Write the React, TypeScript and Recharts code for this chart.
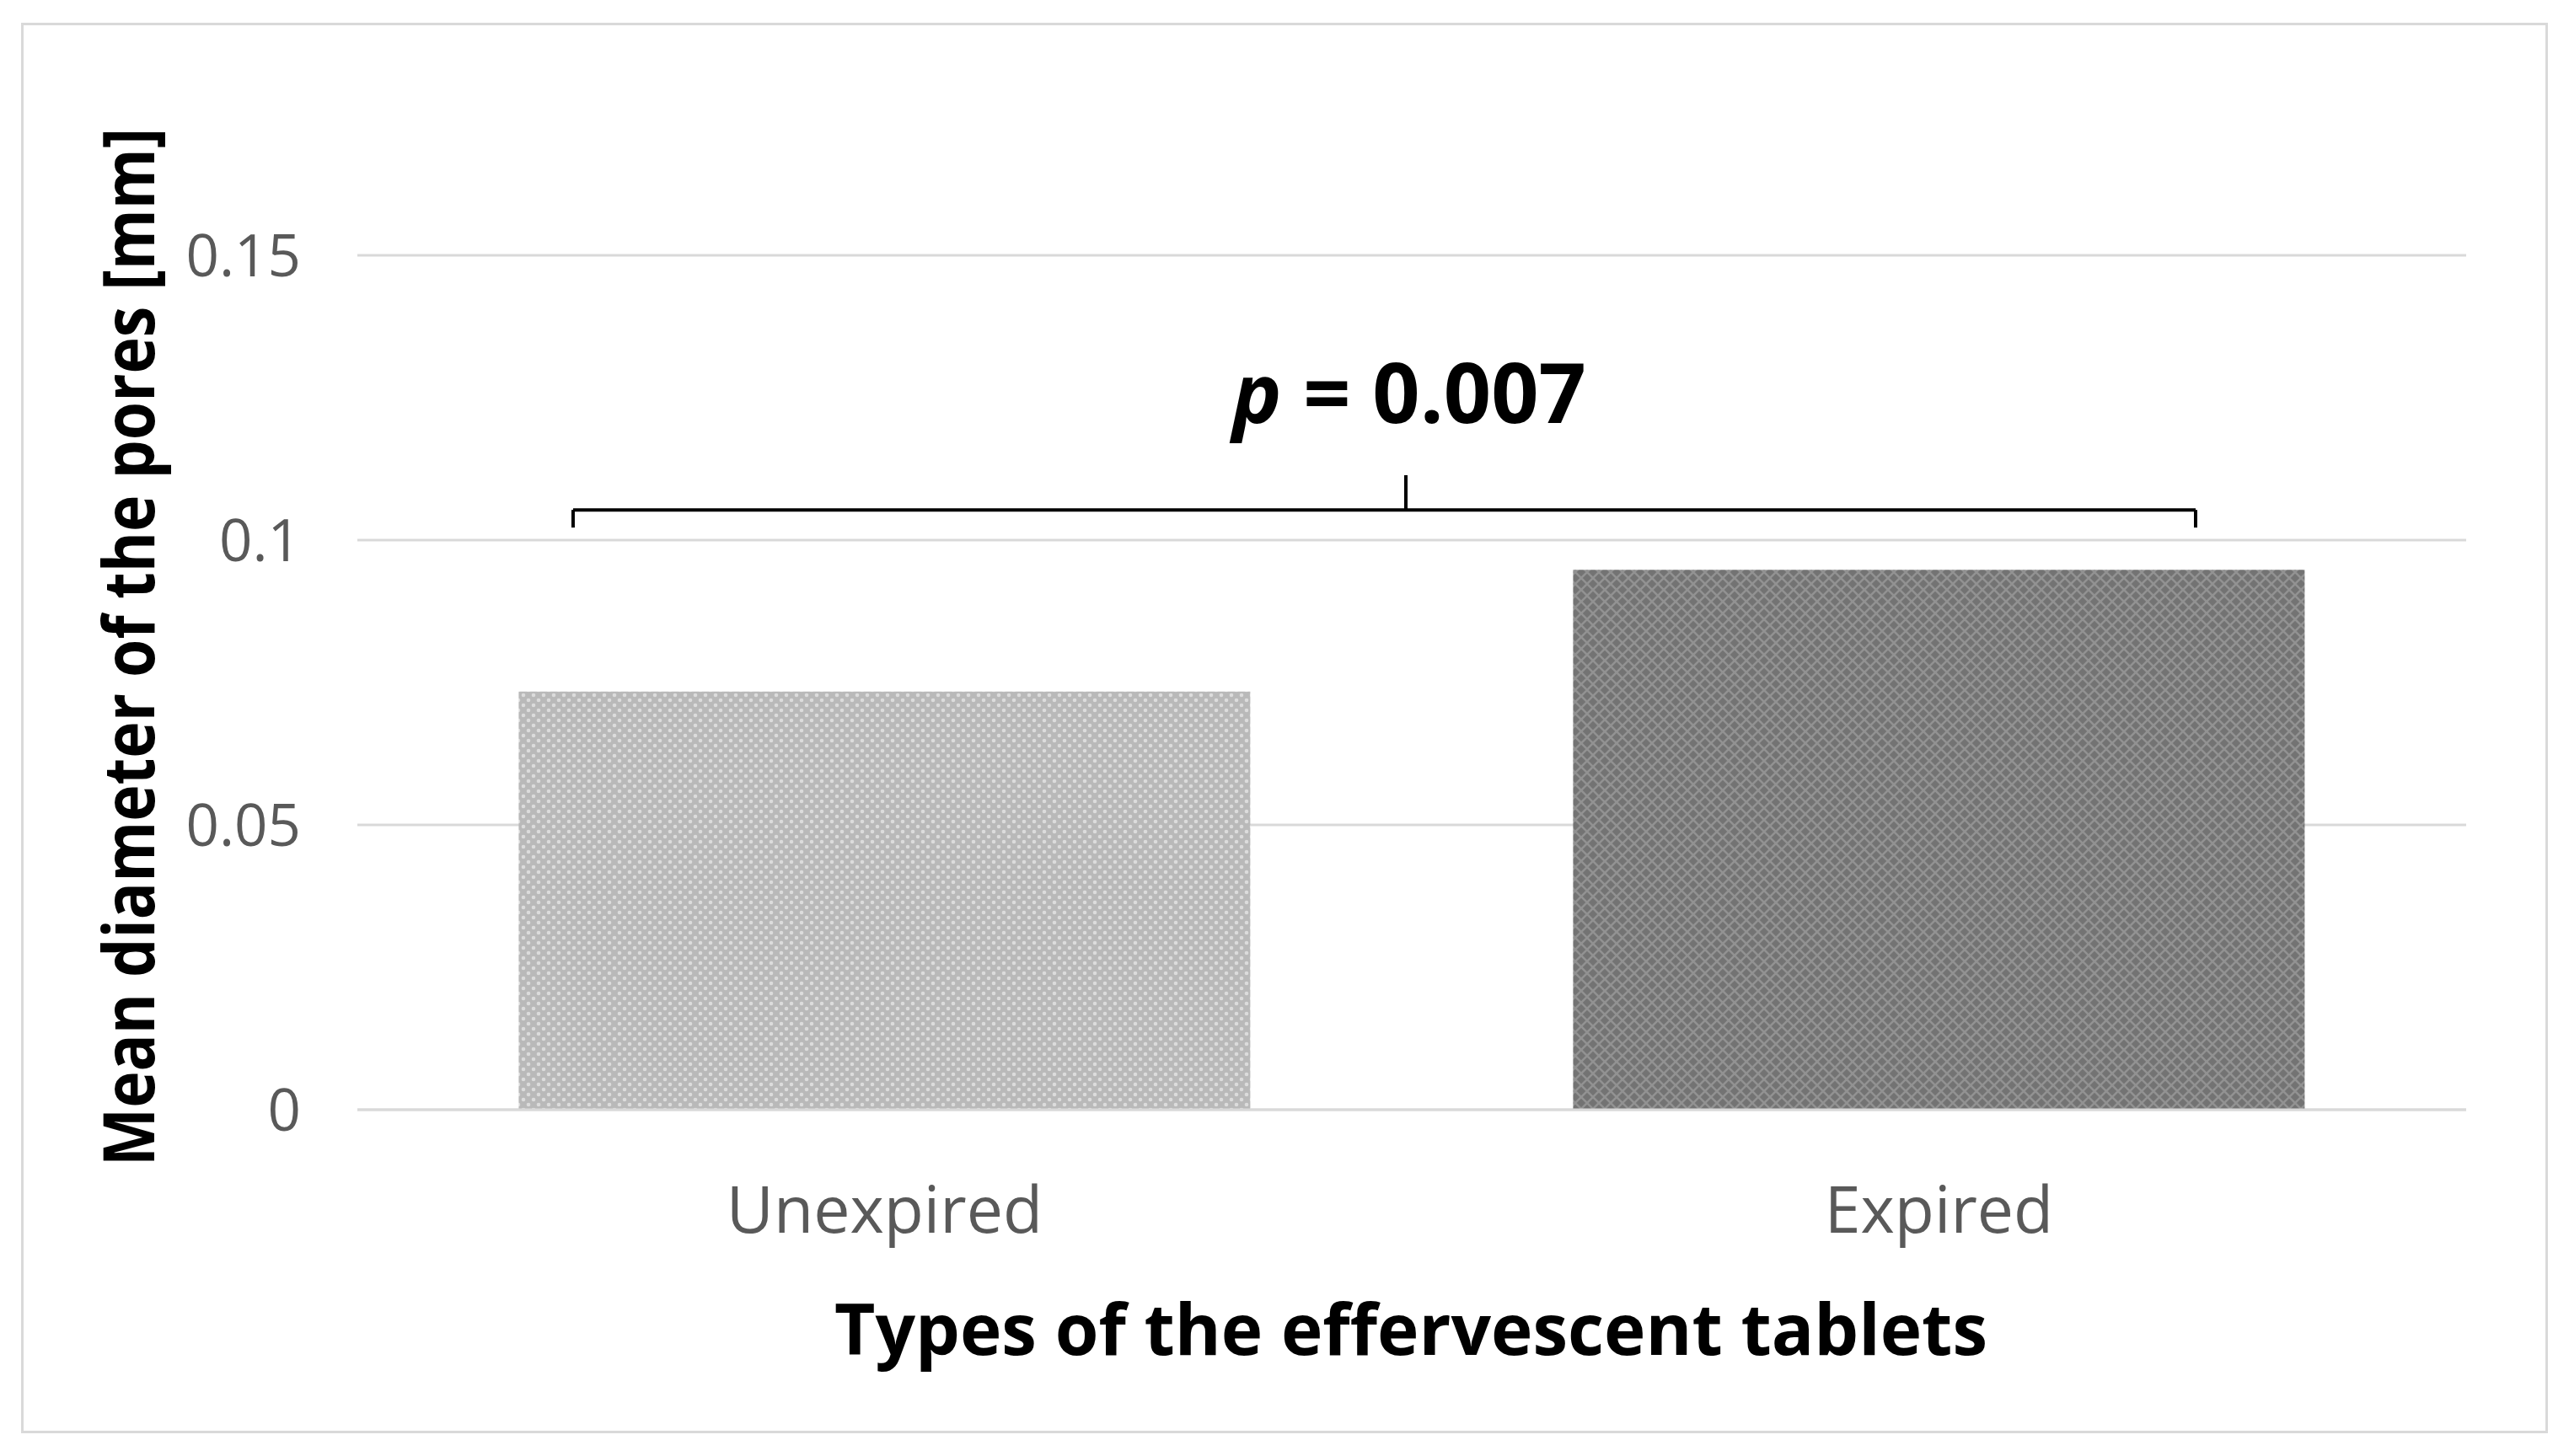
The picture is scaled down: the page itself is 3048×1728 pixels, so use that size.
import * as React from 'react';
import {
  BarChart,
  Bar,
  Cell,
  XAxis,
  YAxis,
  CartesianGrid,
  ReferenceLine,
  ReferenceDot,
} from 'recharts';

// chart values
const categories = ['Unexpired', 'Expired'];
const meanDiameter = [0.0734, 0.0948];
const yTicks = [0, 0.05, 0.1, 0.15];
const barFills = ['url(#dotsLight)', 'url(#latticeDark)'];

// significance bracket: x as a fraction of the plot width (hidden 0..1 axis), y in mm
const pValueLabel = { p: 'p', rest: ' = 0.007' };
const bracketEnds = [0.1023, 0.8717];
const bracketMid = 0.4972;
const bracketY = 0.1053;
const bracketFootY = 0.1022;
const bracketTipY = 0.1114;
const pLabelPos = { x: 0.4988, y: 0.1206 };

const data = categories.map((name, i) => ({ name, value: meanDiameter[i] }));

const FONT = '"Open Sans", "Noto Sans", sans-serif';
const TICK_GREY = '#595959';
const GRID_GREY = '#d9d9d9';

function YTick(props: any) {
  const { x, y, payload } = props;
  return (
    <text x={x} y={y} dy="0.36em" textAnchor="end" fontFamily={FONT} fontSize={69} fill={TICK_GREY}>
      {payload.value}
    </text>
  );
}

function XTick(props: any) {
  const { x, y, payload } = props;
  return (
    <text x={x} y={y + 146} textAnchor="middle" fontFamily={FONT} fontSize={77} fill={TICK_GREY}>
      {payload.value}
    </text>
  );
}

function YTitle() {
  const cx = 183;
  const cy = 768;
  return (
    <text
      x={cx}
      y={cy}
      transform={`rotate(-90, ${cx}, ${cy})`}
      textAnchor="middle"
      fontFamily={FONT}
      fontWeight={700}
      fontSize={84}
      fill="#000"
      textLength={1232}
      lengthAdjust="spacingAndGlyphs"
    >
      Mean diameter of the pores [mm]
    </text>
  );
}

function XTitle() {
  return (
    <text
      x={1674}
      y={1608}
      textAnchor="middle"
      fontFamily={FONT}
      fontWeight={700}
      fontSize={85}
      fill="#000"
      textLength={1368}
      lengthAdjust="spacingAndGlyphs"
    >
      Types of the effervescent tablets
    </text>
  );
}

function PLabel(props: any) {
  const { cx, cy } = props;
  return (
    <text
      x={cx}
      y={cy}
      textAnchor="middle"
      fontFamily={FONT}
      fontWeight={700}
      fontSize={98}
      fill="#000"
      textLength={420}
      lengthAdjust="spacingAndGlyphs"
    >
      <tspan fontStyle="italic">{pValueLabel.p}</tspan>
      <tspan>{pValueLabel.rest}</tspan>
    </text>
  );
}

function Patterns() {
  return (
    <svg width={0} height={0} style={{ position: 'absolute' }}>
      <defs>
        <pattern id="dotsLight" patternUnits="userSpaceOnUse" width={12} height={12}>
          <rect width={12} height={12} fill="#b9b9b9" />
          <circle cx={3} cy={3} r={2.3} fill="#dcdcdc" />
          <circle cx={9} cy={9} r={2.3} fill="#dcdcdc" />
        </pattern>
        <pattern id="latticeDark" patternUnits="userSpaceOnUse" width={14} height={14}>
          <rect width={14} height={14} fill="#737373" />
          <path d="M0,0 L14,14 M14,0 L0,14" stroke="#929292" strokeWidth={2.5} />
        </pattern>
      </defs>
    </svg>
  );
}

const bracketSegments = [
  [
    { x: bracketEnds[0], y: bracketFootY },
    { x: bracketEnds[0], y: bracketY },
  ],
  [
    { x: bracketEnds[0], y: bracketY },
    { x: bracketEnds[1], y: bracketY },
  ],
  [
    { x: bracketEnds[1], y: bracketY },
    { x: bracketEnds[1], y: bracketFootY },
  ],
  [
    { x: bracketMid, y: bracketY },
    { x: bracketMid, y: bracketTipY },
  ],
];

export default function App() {
  return (
    <div style={{ position: 'absolute', left: 0, top: 0, width: 3048, height: 1728, background: '#fff' }}>
      <Patterns />
      <div
        style={{
          position: 'absolute',
          left: 25,
          top: 27,
          width: 2998,
          height: 1674,
          boxSizing: 'border-box',
          border: `3px solid ${GRID_GREY}`,
        }}
      />
      <div style={{ position: 'absolute', left: 0, top: 0 }}>
        <BarChart
          width={3048}
          height={1728}
          data={data}
          margin={{ top: 303, right: 122, bottom: 111, left: 0 }}
          barCategoryGap="15.3%"
          style={{ overflow: 'visible' }}
        >
          <CartesianGrid vertical={false} stroke={GRID_GREY} strokeWidth={3} />
          <XAxis
            dataKey="name"
            height={300}
            axisLine={{ stroke: GRID_GREY, strokeWidth: 3 }}
            tickLine={false}
            tickSize={0}
            tickMargin={0}
            tick={<XTick />}
            interval={0}
          />
          <XAxis xAxisId="ann" type="number" domain={[0, 1]} allowDataOverflow hide />
          <YAxis
            width={424}
            domain={[0, 0.15]}
            ticks={yTicks}
            allowDataOverflow
            axisLine={false}
            tickLine={false}
            tickSize={0}
            tickMargin={67}
            tick={<YTick />}
          />
          <Bar dataKey="value" isAnimationActive={false}>
            {data.map((d, i) => (
              <Cell key={d.name} fill={barFills[i]} />
            ))}
          </Bar>
          {bracketSegments.map((seg, i) => (
            <ReferenceLine
              key={i}
              xAxisId="ann"
              segment={seg}
              ifOverflow="visible"
              stroke="#000"
              strokeWidth={4}
            />
          ))}
          <ReferenceDot
            xAxisId="ann"
            x={pLabelPos.x}
            y={pLabelPos.y}
            r={0}
            ifOverflow="visible"
            shape={<PLabel />}
          />
          <YTitle />
          <XTitle />
        </BarChart>
      </div>
    </div>
  );
}
